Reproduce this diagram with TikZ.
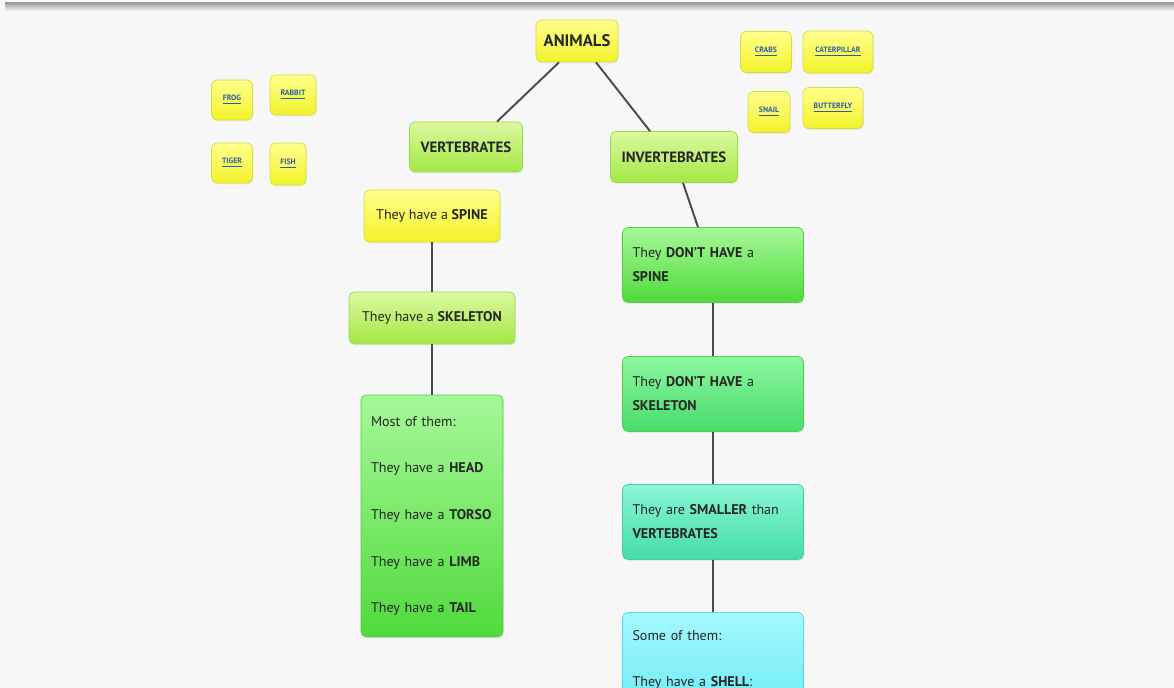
\documentclass[tikz,border=0pt]{standalone}
\usepackage{fontspec}
\setmainfont{PT Sans}
\usetikzlibrary{shadows}
\usepackage{xcolor}
\definecolor{pagebg}{HTML}{F7F7F7}
\definecolor{linkgray}{HTML}{4A4A52}
\definecolor{txtgray}{HTML}{262626}
\definecolor{yelltop}{HTML}{FFFF8C}
\definecolor{yellbot}{HTML}{F2F22A}
\definecolor{yellline}{HTML}{DADA3A}
\definecolor{limetop}{HTML}{DCF8A0}
\definecolor{limebot}{HTML}{A4E844}
\definecolor{limeline}{HTML}{9AD84A}
\definecolor{greentop}{HTML}{A6F898}
\definecolor{greenbot}{HTML}{50DA3C}
\definecolor{greenline}{HTML}{56CC48}
\definecolor{emertop}{HTML}{8CF6A0}
\definecolor{emerbot}{HTML}{48DC6C}
\definecolor{tealtop}{HTML}{8AF6D6}
\definecolor{tealbot}{HTML}{44DCA8}
\definecolor{tealline}{HTML}{48CCA0}
\definecolor{cyantop}{HTML}{A4F8FE}
\definecolor{cyanbot}{HTML}{70ECF6}
\definecolor{cyanline}{HTML}{5CD6E4}
\definecolor{tinyblue}{HTML}{2A5FA8}
\tikzstyle{link} = [draw=linkgray, line width=1.1pt]

\begin{document}
\begin{tikzpicture}
        [
            x=0.02cm, y=-0.02cm,
            box/.style={rectangle, rounded corners=3pt, thin, text=txtgray,
                font=\fontsize{8}{9.6}\selectfont, inner sep=0pt,
                drop shadow={opacity=0.12, shadow xshift=0.5pt, shadow yshift=-0.8pt}},
            yellowbox/.style={box, top color=yelltop, bottom color=yellbot, draw=yellline},
            limebox/.style={box, top color=limetop, bottom color=limebot, draw=limeline},
            greenbox/.style={box, top color=greentop, bottom color=greenbot, draw=greenline},
            emerbox/.style={box, top color=emertop, bottom color=emerbot, draw=greenline},
            tealbox/.style={box, top color=tealtop, bottom color=tealbot, draw=tealline},
            cyanbox/.style={box, top color=cyantop, bottom color=cyanbot, draw=cyanline},
            textbox/.style={align=left, text width=3.22cm, inner xsep=0.2cm,
                minimum width=3.62cm, minimum height=1.5cm,
                font=\fontsize{8}{13.6}\selectfont},
            tiny/.style={yellowbox, font=\fontsize{4.4}{5}\selectfont\bfseries, text=tinyblue},
        ]

    \useasboundingbox (0,0) rectangle (1174,688);
    \clip (0,0) rectangle (1174,688);
    \fill[pagebg] (0,0) rectangle (1174,688);
    \fill[top color=gray!75, bottom color=pagebg] (5,3) rectangle (1174,11);

    % main tree
    \node[yellowbox, minimum width=1.64cm, minimum height=0.84cm,
        font=\fontsize{9.5}{11}\selectfont\bfseries] (animals) at (577,41) {ANIMALS};
    \node[limebox, minimum width=2.26cm, minimum height=1cm,
        font=\fontsize{8.5}{10}\selectfont\bfseries] (vert) at (466,147) {VERTEBRATES};
    \node[limebox, minimum width=2.54cm, minimum height=1.02cm,
        font=\fontsize{8.5}{10}\selectfont\bfseries] (invert) at (674,157) {INVERTEBRATES};

    % vertebrates
    \node[yellowbox, minimum width=2.72cm, minimum height=1.04cm] (spine) at (432,216)
        {They have a \textbf{SPINE}};
    \node[limebox, minimum width=3.32cm, minimum height=1.04cm] (skeleton) at (432,318)
        {They have a \textbf{SKELETON}};
    \node[greenbox, align=left, text width=2.44cm, inner xsep=0.2cm,
        minimum width=2.84cm, minimum height=4.84cm,
        font=\fontsize{8}{26.6}\selectfont] (most) at (432,516)
        {Most of them:\\They have a \textbf{HEAD}\\They have a \textbf{TORSO}\\
         They have a \textbf{LIMB}\\They have a \textbf{TAIL}};

    % invertebrates
    \node[greenbox, textbox] (nospine) at (713,265)
        {They \textbf{DON’T HAVE} a\\\textbf{SPINE}};
    \node[emerbox, textbox] (noskel) at (713,394)
        {They \textbf{DON’T HAVE} a\\\textbf{SKELETON}};
    \node[tealbox, textbox] (smaller) at (713,522)
        {They are \textbf{SMALLER} than\\\textbf{VERTEBRATES}};
    \node[cyanbox, textbox, minimum height=1.9cm,
        font=\fontsize{8}{26.6}\selectfont] (some) at (713,660)
        {Some of them:\\They have a \textbf{SHELL}:};

    \path (animals.south) ++(-18,0) coordinate (a1);
    \path (animals.south) ++(19,0) coordinate (a2);
    \draw[link] (a1) -- ([xshift=0.62cm]vert.north);
    \draw[link] (a2) -- ([xshift=-0.48cm]invert.north);
    \draw[link] ([xshift=0.18cm]invert.south) -- ([xshift=-0.3cm]nospine.north);
    \draw[link] (spine) -- (skeleton);
    \draw[link] (skeleton) -- (most);
    \draw[link] (nospine) -- (noskel);
    \draw[link] (noskel) -- (smaller);
    \draw[link] (smaller) -- (some);

    % animal cards
    \foreach \name/\x/\y/\w/\h/\txt in {
        frog/232/100/0.82/0.8/FROG, rabbit/293/95/0.92/0.8/RABBIT,
        tiger/232/163/0.82/0.8/TIGER, fish/288/164/0.72/0.84/FISH,
        crabs/766/52/1.02/0.82/CRABS, caterpillar/838/52/1.4/0.84/CATERPILLAR,
        snail/769/112/0.84/0.82/SNAIL, butterfly/833/108/1.2/0.82/BUTTERFLY}
        \node[tiny, minimum width=\w cm, minimum height=\h cm] (\name) at (\x,\y)
            {\underline{\txt}};
\end{tikzpicture}
\end{document}
